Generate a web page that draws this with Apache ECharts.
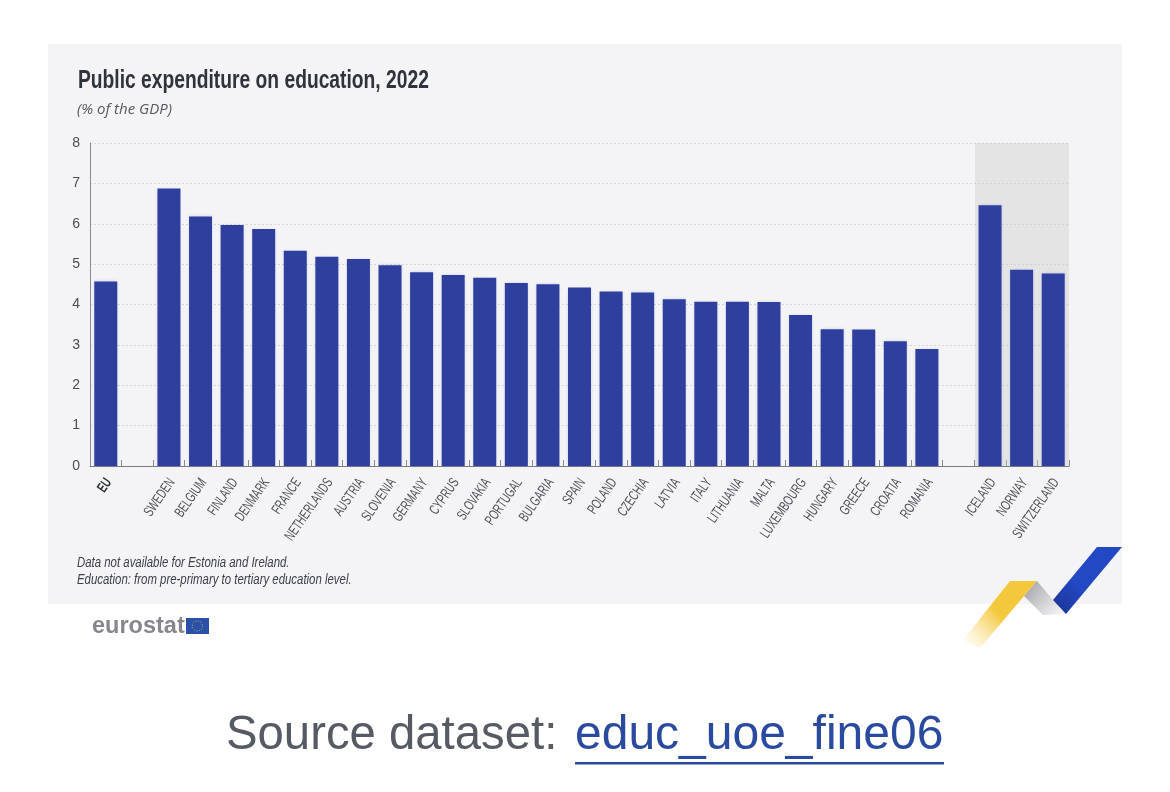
<!DOCTYPE html>
<html><head><meta charset="utf-8">
<script src="https://cdn.jsdelivr.net/npm/echarts@6/dist/echarts.min.js"></script>
<style>html,body{margin:0;padding:0;background:#fff}#c{width:1170px;height:792px}</style>
</head><body><div id="c"></div>
<script>
const categories = ['EU','', 'SWEDEN','BELGIUM','FINLAND','DENMARK','FRANCE','NETHERLANDS','AUSTRIA','SLOVENIA','GERMANY','CYPRUS','SLOVAKIA','PORTUGAL','BULGARIA','SPAIN','POLAND','CZECHIA','LATVIA','ITALY','LITHUANIA','MALTA','LUXEMBOURG','HUNGARY','GREECE','CROATIA','ROMANIA',' ','ICELAND','NORWAY','SWITZERLAND'];
const values = [4.57,null,6.87,6.18,5.97,5.87,5.33,5.18,5.13,4.97,4.80,4.73,4.66,4.53,4.50,4.42,4.32,4.30,4.13,4.07,4.07,4.06,3.74,3.39,3.38,3.09,2.90,null,6.46,4.86,4.77];
const titleText = 'Public expenditure on education, 2022';
const unitText = '(% of the GDP)';
const notes = ['Data not available for Estonia and Ireland.','Education: from pre-primary to tertiary education level.'];
const sans = '"Liberation Sans",sans-serif';
const chart = echarts.init(document.getElementById('c'));
const grad = (x,y,x2,y2,stops)=>({type:'linear',x,y,x2,y2,colorStops:stops.map(([offset,color])=>({offset,color}))});
chart.setOption({
  animation:false,
  backgroundColor:'#fff',
  grid:{left:90,top:143,width:979,height:323},
  xAxis:{type:'category',data:categories,
    axisLine:{lineStyle:{color:'#7a7a80',width:1}},
    axisTick:{show:true,interval:0,inside:true,length:6,lineStyle:{color:'#8a8a8e'}},
    axisLabel:{show:false,interval:0}},
  yAxis:{type:'value',min:0,max:8,interval:1,
    axisLine:{show:true,lineStyle:{color:'#8a8a8e',width:1}},axisTick:{show:false},
    axisLabel:{margin:10,fontFamily:sans,fontSize:14,color:'#4a4c52'},
    splitLine:{lineStyle:{color:'#d6d6d8',type:[2,2],width:1}}},
  series:[
   {type:'bar',data:values,barWidth:23,
    itemStyle:{color:'#2e3f9e',shadowColor:'rgba(70,80,220,.22)',shadowBlur:3},
    markArea:{silent:true,itemStyle:{color:'rgba(205,205,205,.42)'},
      data:[[{x:975,y:143},{x:1069,y:466}]]}},
   {type:'custom',clip:false,silent:true,z:5,
    data:categories.map((c,i)=>[i,0]),encode:{x:0,y:1},
    renderItem(params,api){
      const name=categories[api.value(0)];
      if(!name.trim()) return null;
      const p=api.coord([api.value(0),0]);
      return {type:'text',x:p[0]+3,y:p[1]+14,rotation:55*Math.PI/180,scaleX:.67,
        style:{text:name,align:'right',verticalAlign:'middle',
          font:(name==='EU'?'bold ':'')+'14.5px '+sans,fill:name==='EU'?'#2f3238':'#4f5258'}};
    }}
  ],
  graphic:[
    {type:'rect',z:-10,shape:{x:48,y:44,width:1074,height:560},style:{fill:'#f4f4f6'}},
    {type:'text',x:78,y:69,scaleX:.77,style:{text:titleText,font:'bold 25px '+sans,fill:'#2f333c'}},
    {type:'text',x:77,y:102,style:{text:unitText,font:'italic 15px "Open Sans",sans-serif',fill:'#55585e'}},
    {type:'text',x:77,y:556,scaleX:.815,style:{text:notes[0],font:'italic 14px '+sans,fill:'#3c3f46'}},
    {type:'text',x:77,y:573,scaleX:.815,style:{text:notes[1],font:'italic 14px '+sans,fill:'#3c3f46'}},
    {type:'text',x:92,y:615,style:{text:'eurostat',font:'bold 23.5px '+sans,fill:'#85878c'}},
    {type:'rect',shape:{x:186,y:618,width:23,height:16},style:{fill:'#2a50a8'}},
    {type:'circle',shape:{cx:197.5,cy:626,r:5},style:{fill:'none',stroke:'#c9b860',lineWidth:1,lineDash:[1,1.6]}},
    {type:'polygon',shape:{points:[[1010,581],[1037,581],[1024,596],[980,648],[963,640]]},
      style:{fill:grad(1,0,0,1,[[0,'#f3c83c'],[.5,'#f3c83c'],[1,'rgba(250,225,150,0)']])}},
    {type:'polygon',shape:{points:[[1037,581],[1053,600],[1066,614],[1043,615],[1024,596]]},
      style:{fill:grad(0,0,1,1,[[0,'#9a9aa0'],[1,'rgba(240,240,242,.6)']])}},
    {type:'polygon',shape:{points:[[1097,547],[1122,547],[1066,614],[1053,600]]},
      style:{fill:grad(1,0,0,1,[[0,'#2348c4'],[.6,'#2348c4'],[1,'#1c3290']])}},
    {type:'text',x:226,y:712,style:{text:'Source dataset: ',font:'47.3px '+sans,fill:'#555a63'}},
    {type:'text',x:575,y:712,style:{text:'educ_uoe_fine06',font:'48px '+sans,fill:'#2a4aa0'}},
    {type:'rect',shape:{x:575,y:762,width:369,height:2.5},style:{fill:'#2a4aa0'}}
  ]
});
</script></body></html>
